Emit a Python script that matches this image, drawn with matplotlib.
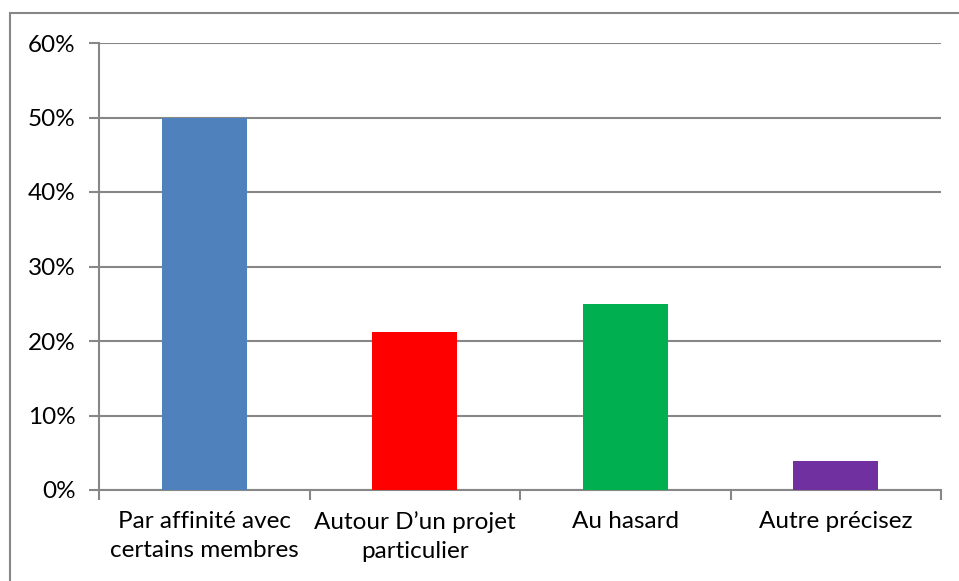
import matplotlib.pyplot as plt
import matplotlib.patches as patches
import numpy as np

categories = ["Par affinité avec\ncertains membres", "Autour D\u2019un projet\nparticulier", "Au hasard", "Autre précisez"]
values = [50.0, 21.15, 25.0, 3.85]
colors = ["#4f81bd", "#ff0000", "#00b050", "#7030a0"]
yticks = [0, 10, 20, 30, 40, 50, 60]

plt.rcParams['font.family'] = ['Lato', 'DejaVu Sans']
grey = "#878787"

fig = plt.figure(figsize=(9.59, 5.81), dpi=100)
ax = fig.add_axes([99/959, 91/581, 842/959, 447/581])

x = np.arange(len(categories))
ax.bar(x, values, width=0.405, color=colors, zorder=3)

ax.set_xlim(-0.5, len(categories) - 0.5)
ax.set_ylim(0, 60)
ax.set_yticks(yticks)
ax.set_yticklabels([f"{v}%" for v in yticks], fontsize=17.5)
ax.set_xticks(x)
ax.set_xticklabels(categories, fontsize=17.5, linespacing=1.5)
ax.set_xticks(np.arange(-0.5, len(categories)), minor=True)

ax.tick_params(axis='x', which='major', length=0, pad=15)
ax.tick_params(axis='x', which='minor', length=7, width=1.5, color=grey, direction='out')
ax.tick_params(axis='y', length=7, width=1.5, color=grey, pad=10)

ax.grid(axis='y', color=grey, linewidth=1.5, zorder=0)
for s in ['top', 'right']:
	ax.spines[s].set_visible(False)
for s in ['left', 'bottom']:
	ax.spines[s].set_color(grey)
	ax.spines[s].set_linewidth(1.5)

# outer chart frame
fig.patches.append(patches.Rectangle((10/959, -0.05), 1.0, (581-13)/581 + 0.05,
	transform=fig.transFigure, fill=False, edgecolor=grey, linewidth=1.5))

fig.savefig("out.png", dpi=100)
